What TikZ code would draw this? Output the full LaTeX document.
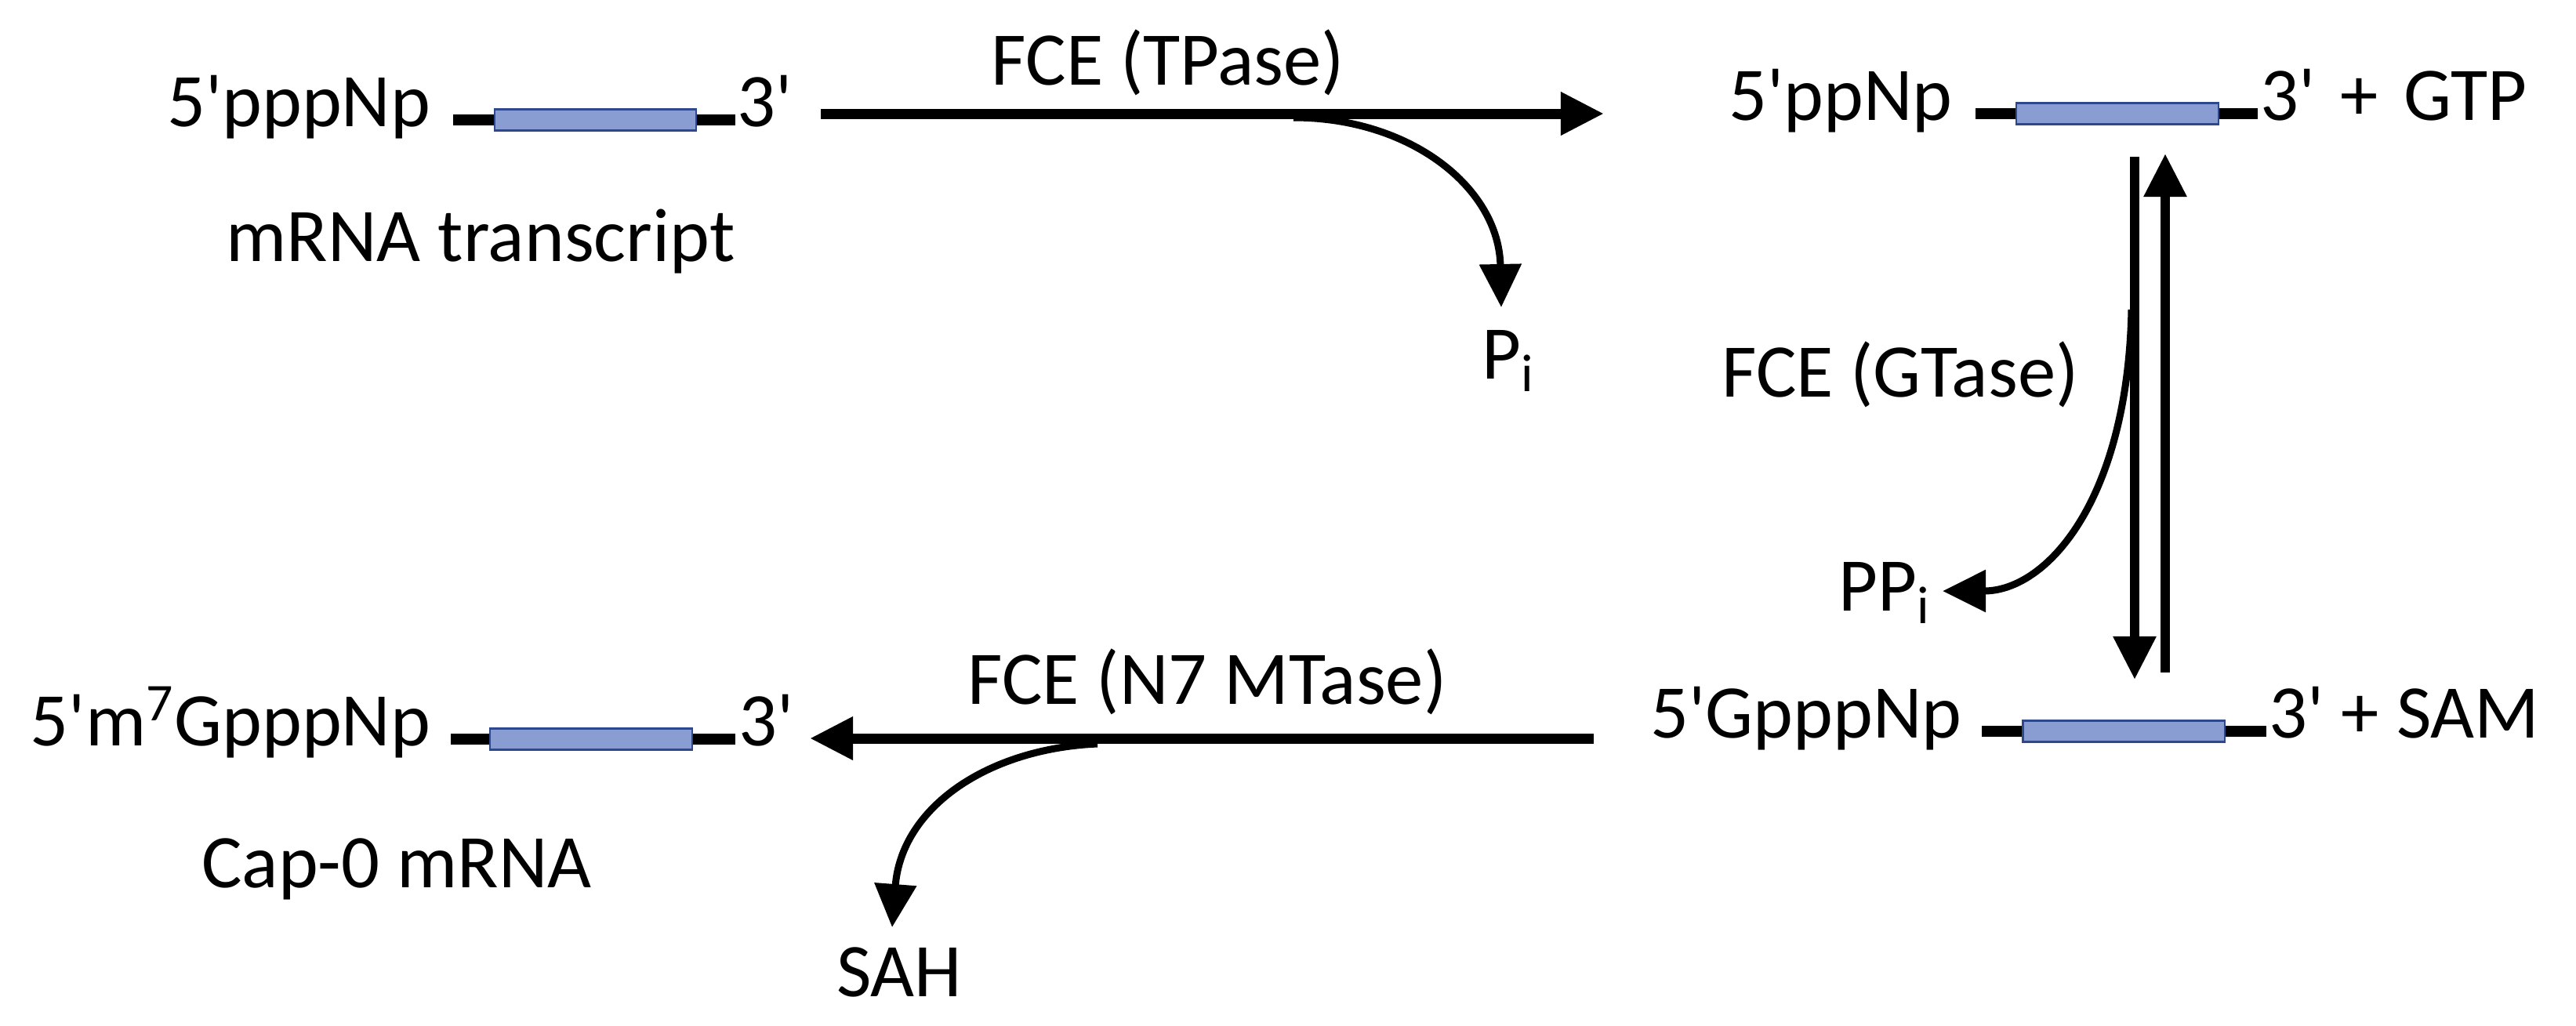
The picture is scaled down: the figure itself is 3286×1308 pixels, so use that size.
\documentclass[tikz,border=0pt]{standalone}
\usepackage{fontspec}
\setmainfont{Carlito}[Ligatures=TeXOff]
\usetikzlibrary{arrows.meta,positioning}
\definecolor{boxfill}{RGB}{137,157,210}
\definecolor{boxedge}{RGB}{45,72,140}
\begin{document}
\begin{tikzpicture}[x=0.01cm,y=-0.01cm,
    every node/.style={font=\fontsize{27.5}{33}\selectfont, inner sep=0pt},
    rnabox/.style={draw=boxedge, fill=boxfill, line width=0.6pt, minimum width=2.57cm, minimum height=0.27cm},
    rnaline/.style={line width=0.135cm},
    react/.style={line width=0.13cm, -{Triangle[length=0.55cm,width=0.52cm]}},
    release/.style={line width=0.09cm, -{Triangle[length=0.55cm,width=0.52cm]}}]
    \fill[white] (0,0) rectangle (3286,1308);

    % mRNA transcript
    \draw[rnaline] (578,153) coordinate (a1) -- (938,153) coordinate (b1);
    \node[rnabox] (box1) at (759.5,153) {};
    \node[anchor=mid east] (rna1) at ([xshift=-0.28cm]a1) {5'pppNp};
    \node[anchor=mid west] (end1) at ([xshift=0.02cm]b1) {3'};
    \node[anchor=base] (lab1) at (613,333) {mRNA transcript};

    % 5'ppNp
    \draw[rnaline] (2520,145) coordinate (a2) -- (2880,145) coordinate (b2);
    \node[rnabox] (box2) at (2701,145) {};
    \node[anchor=mid east] (rna2) at ([xshift=-0.29cm]a2) {5'ppNp};
    \node[anchor=mid west] (end2) at ([xshift=0.03cm]b2) {3'\hspace{0.1cm} + \hspace{0.1cm}GTP};

    % 5'GpppNp
    \draw[rnaline] (2528,933) coordinate (a3) -- (2891,933) coordinate (b3);
    \node[rnabox] (box3) at (2709,933) {};
    \node[anchor=mid east] (rna3) at ([xshift=-0.25cm]a3) {5'GpppNp};
    \node[anchor=mid west] (end3) at ([xshift=0.03cm]b3) {3' + SAM};

    % cap-0 mRNA
    \draw[rnaline] (575,943) coordinate (a4) -- (938,943) coordinate (b4);
    \node[rnabox] (box4) at (754,943) {};
    \node[anchor=mid east] (rna4) at ([xshift=-0.25cm]a4) {5'm\textsuperscript{7}GpppNp};
    \node[anchor=mid west] (end4) at ([xshift=0.04cm]b4) {3'};
    \node[anchor=base] (lab4) at (506,1132) {Cap-0 mRNA};

    % TPase
    \coordinate (t1) at (1047,145);
    \coordinate (t2) at (2046,145);
    \draw[react] (t1) -- (t2);
    \node[anchor=base] (tpase) at (1490,108) {FCE (TPase)};
    \coordinate (t3) at (1650,150);
    \coordinate (t4) at (1915,392);
    \draw[release] (t3) .. controls (1800,150) and (1912,240) .. (t4);
    \node[anchor=base west] (pi) at (1890,483) {P\textsubscript{i}};

    % GTase
    \coordinate (g1) at (2723,200);
    \coordinate (g2) at (2723,867);
    \coordinate (g3) at (2762,858);
    \coordinate (g4) at (2762,196);
    \draw[react,line width=0.12cm] (g1) -- (g2);
    \draw[react,line width=0.12cm] (g3) -- (g4);
    \node[anchor=base] (gtase) at (2424,506) {FCE (GTase)};
    \coordinate (g5) at (2719,395);
    \coordinate (g6) at (2478,754);
    \draw[release] (g5) .. controls (2714,640) and (2610,754) .. (g6);
    \node[anchor=base west] (ppi) at (2345,779) {PP\textsubscript{i}};

    % N7 MTase
    \coordinate (m1) at (2033,942);
    \coordinate (m2) at (1033,942);
    \draw[react] (m1) -- (m2);
    \node[anchor=base] (mtase) at (1540,898) {FCE (N7 MTase)};
    \coordinate (m3) at (1400,949);
    \coordinate (m4) at (1138,1183);
    \draw[release] (m3) .. controls (1260,955) and (1150,1030) .. (m4);
    \node[anchor=base] (sah) at (1147,1271) {SAH};
\end{tikzpicture}
\end{document}
